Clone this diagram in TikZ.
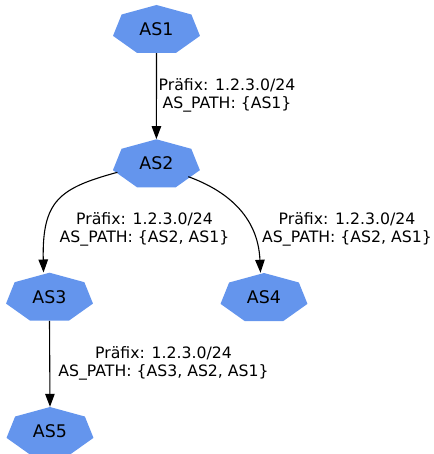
\documentclass[tikz,border=0pt]{standalone}
\usepackage{fontspec}
\setmainfont{DejaVu Sans}
\usetikzlibrary{arrows.meta}
\pgfdeclarelayer{background}
\pgfsetlayers{background,main}
\definecolor{asblue}{HTML}{6495ED}
\newcommand\nodefnt{\fontsize{17.4}{20}\selectfont}
\newcommand\labfnt{\fontsize{15.7}{18.2}\selectfont}
\newcommand\heptfill[1]{%
  \fill[asblue, shift={(#1.center)}, yshift=-1.25pt] (90:44.6pt and 25.25pt)
    \foreach \a in {1,...,6}{ -- ({90-\a*360/7}:44.6pt and 25.25pt)} -- cycle;}
\tikzset{
  asnode/.style={rectangle, inner sep=0pt, minimum width=87pt, minimum height=48pt,
    font=\nodefnt},
  edgelab/.style={align=center, font=\labfnt, inner sep=0pt},
  conn/.style={line width=1.1pt, -{Triangle[length=13pt, width=9.5pt]}}
}
\begin{document}
\begin{tikzpicture}[x=1pt, y=1pt]
\useasboundingbox (0,0) rectangle (433,-454);
\node[asnode] (as1) at (156.5,-29) {AS1};
\node[asnode] (as2) at (156.4,-163.3) {AS2};
\node[asnode] (as3) at (49.5,-296.7) {AS3};
\node[asnode] (as4) at (264,-297) {AS4};
\node[asnode] (as5) at (50,-431) {AS5};
\begin{pgfonlayer}{background}
\heptfill{as1}
\heptfill{as2}
\heptfill{as3}
\heptfill{as4}
\heptfill{as5}
\end{pgfonlayer}

\draw[conn] (as1.south) -- (as2.north);
\draw[conn] ([shift={(-39,-9)}]as2.center) .. controls (60,-188) and (42,-200) .. ([xshift=-6]as3.north);
\draw[conn] ([shift={(31.9,-13.4)}]as2.center) .. controls (225,-190) and (258,-215) .. ([xshift=-3.5]as4.north);
\draw[conn] (as3.south) -- (as5.north);

\node[edgelab] (l1) at (227,-95.5) {Präfix: 1.2.3.0/24\\AS\_PATH: \{AS1\}};
\node[edgelab] (l2) at (144.5,-229.5) {Präfix: 1.2.3.0/24\\AS\_PATH: \{AS2, AS1\}};
\node[edgelab] (l3) at (347,-229.5) {Präfix: 1.2.3.0/24\\AS\_PATH: \{AS2, AS1\}};
\node[edgelab] (l4) at (163.5,-363) {Präfix: 1.2.3.0/24\\AS\_PATH: \{AS3, AS2, AS1\}};
\end{tikzpicture}
\end{document}
